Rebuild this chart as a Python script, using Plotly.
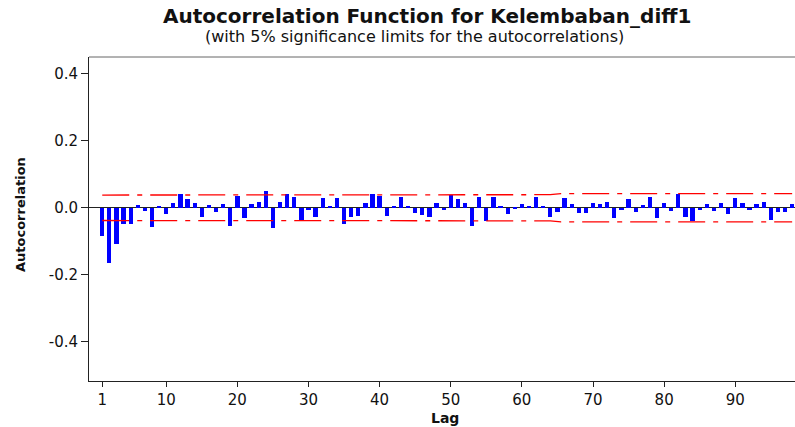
import plotly.graph_objects as go

# Sample autocorrelations of Kelembaban_diff1, lags 1..98
lags = list(range(1, 99))
acf = [
    -0.084, -0.165, -0.107, -0.047, -0.047, 0.008, -0.009, -0.057, 0.004, -0.018,
    0.014, 0.040, 0.026, 0.014, -0.029, 0.008, -0.014, 0.011, -0.054, 0.036,
    -0.030, 0.012, 0.017, 0.050, -0.060, 0.018, 0.041, 0.033, -0.036, -0.006,
    -0.027, 0.028, 0.005, 0.029, -0.049, -0.028, -0.024, 0.014, 0.040, 0.036,
    -0.024, 0.004, 0.031, 0.005, -0.015, -0.021, -0.027, 0.015, -0.007, 0.038,
    0.025, 0.015, -0.053, 0.033, -0.040, 0.033, 0.005, -0.020, -0.005, 0.012,
    0.006, 0.033, 0.003, -0.028, -0.013, 0.029, 0.012, -0.017, -0.017, 0.014,
    0.012, 0.018, -0.030, -0.006, 0.026, -0.014, 0.009, 0.033, -0.030, 0.015,
    -0.010, 0.040, -0.028, -0.040, -0.006, 0.012, -0.009, 0.015, -0.020, 0.029,
    0.015, -0.006, 0.012, 0.018, -0.037, -0.013, -0.013, 0.012,
]

# 5% significance limits (upper bound; the lower one mirrors it)
limit_lags = [1, 64, 65.5, 98]
limit_vals = [0.038, 0.039, 0.042, 0.042]

x_ticks = [1, 10, 20, 30, 40, 50, 60, 70, 80, 90]
y_ticks = [-0.4, -0.2, 0.0, 0.2, 0.4]
y_ticktext = ["-0.4", "-0.2", "0.0", "0.2", "0.4"]

W, H = 795, 427
ML, MR, MT, MB = 89, 0, 57, 46

FONT = "DejaVu Sans"
dash = "27px,8px,5px,8px"

fig = go.Figure()

fig.add_trace(go.Bar(
    x=lags, y=acf, width=0.6,
    marker=dict(color="#0000FF", line=dict(width=0)),
    hoverinfo="x+y", showlegend=False,
))

for sign in (1, -1):
    fig.add_trace(go.Scatter(
        x=limit_lags, y=[sign * v for v in limit_vals],
        mode="lines",
        line=dict(color="#FF0000", width=1.3, dash=dash),
        hoverinfo="skip", showlegend=False,
    ))

fig.update_layout(
    width=W, height=H,
    margin=dict(l=ML, r=MR, t=MT, b=MB, pad=0),
    paper_bgcolor="white", plot_bgcolor="white",
    bargap=0,
    font=dict(family=FONT, color="#111111", size=14),
    xaxis=dict(
        range=[-0.86, 98.4],
        tickvals=x_ticks,
        ticks="outside", ticklen=5, tickwidth=1, tickcolor="#222222",
        showline=True, linecolor="#222222", linewidth=1,
        showgrid=False, zeroline=False,
        tickfont=dict(family=FONT, size=15, color="#111111"),
    ),
    yaxis=dict(
        range=[-0.517, 0.450],
        tickvals=y_ticks, ticktext=y_ticktext,
        ticks="outside", ticklen=7, tickwidth=1, tickcolor="#222222",
        showline=True, linecolor="#222222", linewidth=1,
        showgrid=False,
        zeroline=True, zerolinecolor="#222222", zerolinewidth=1,
        tickfont=dict(family=FONT, size=15, color="#111111"),
    ),
    shapes=[
        # top border of the plotting area
        dict(type="line", xref="paper", yref="paper", x0=0, x1=1, y0=1, y1=1,
             line=dict(color="#666666", width=1)),
    ],
)

plot_w = W - ML - MR
plot_h = H - MT - MB


def px_x(p):
    return (p - ML) / plot_w


def px_y(p):
    return (H - MB - p) / plot_h


fig.add_annotation(
    text="<b>Autocorrelation Function for Kelembaban_diff1</b>",
    xref="paper", yref="paper", x=px_x(427), y=px_y(16),
    xanchor="center", yanchor="middle", showarrow=False,
    font=dict(family=FONT, size=20, color="#111111"),
)
fig.add_annotation(
    text="(with 5% significance limits for the autocorrelations)",
    xref="paper", yref="paper", x=px_x(414), y=px_y(37),
    xanchor="center", yanchor="middle", showarrow=False,
    font=dict(family=FONT, size=16, color="#111111"),
)
fig.add_annotation(
    text="<b>Lag</b>",
    xref="paper", yref="paper", x=px_x(445), y=px_y(418),
    xanchor="center", yanchor="middle", showarrow=False,
    font=dict(family=FONT, size=14, color="#111111"),
)
fig.add_annotation(
    text="<b>Autocorrelation</b>",
    xref="paper", yref="paper", x=px_x(21), y=px_y(215),
    xanchor="center", yanchor="middle", showarrow=False, textangle=-90,
    font=dict(family=FONT, size=13, color="#111111"),
)

fig.write_html("out.html")
